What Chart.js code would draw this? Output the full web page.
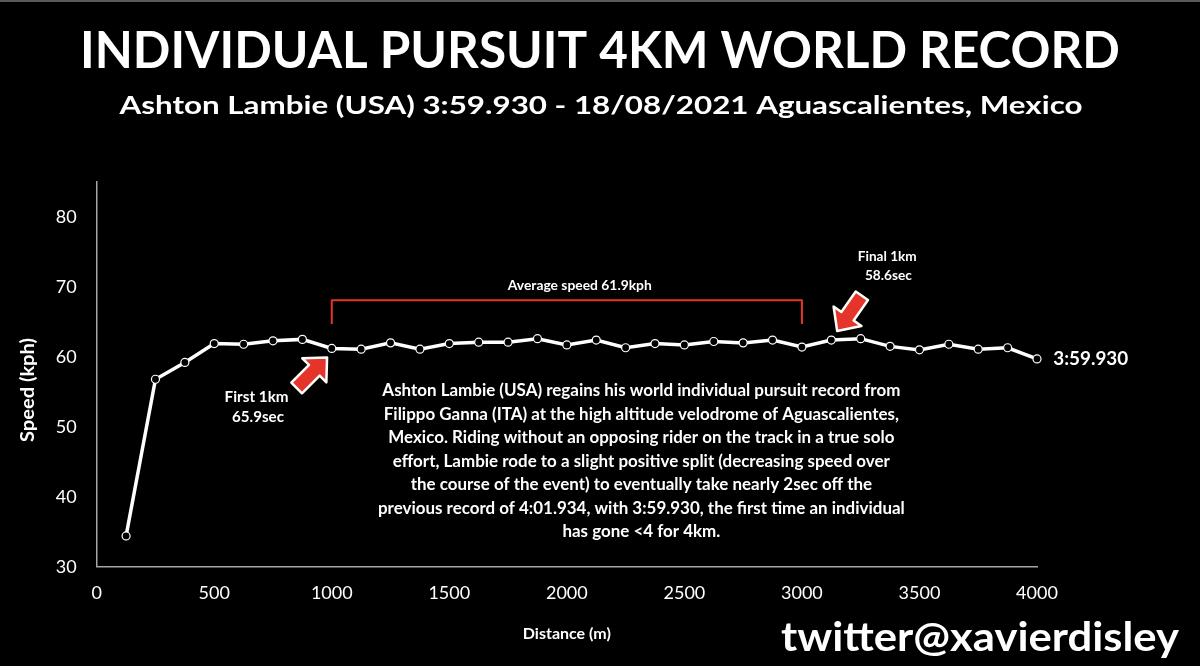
<!DOCTYPE html>
<html>
<head>
<meta charset="utf-8">
<title>Individual Pursuit 4km World Record</title>
<script src="https://cdn.jsdelivr.net/npm/chart.js@4.4.1/dist/chart.umd.min.js"></script>
<style>
  html, body { margin: 0; padding: 0; background: #000; }
  #quadro { position: relative; width: 1200px; height: 666px; }
</style>
</head>
<body>
<div id="quadro"><canvas id="grafico"></canvas></div>
<script>
// Dados (distância em m, velocidade em km/h)
const distancias = [125, 250, 375, 500, 625, 750, 875, 1000, 1125, 1250, 1375, 1500, 1625, 1750, 1875, 2000,
    2125, 2250, 2375, 2500, 2625, 2750, 2875, 3000, 3125, 3250, 3375, 3500, 3625, 3750, 3875, 4000];
const velocidades = [34.4, 56.8, 59.2, 61.9, 61.8, 62.3, 62.5, 61.2, 61.1, 62.0, 61.1, 61.9, 62.1, 62.1, 62.6, 61.7,
    62.4, 61.3, 61.9, 61.7, 62.2, 62.0, 62.4, 61.4, 62.4, 62.6, 61.5, 61.0, 61.8, 61.1, 61.3, 59.7];
const ticksX = [0, 500, 1000, 1500, 2000, 2500, 3000, 3500, 4000];
const ticksY = [30, 40, 50, 60, 70, 80];

const titulo = 'INDIVIDUAL PURSUIT 4KM WORLD RECORD';
const subtitulo = 'Ashton Lambie (USA) 3:59.930 - 18/08/2021 Aguascalientes, Mexico';
const tituloY = 'Speed (kph)';
const textoTempo = '3:59.930';
const textoMedia = 'Average speed 61.9kph';
const textoPrimeiro = ['First 1km', '65.9sec'];
const textoUltimo = ['Final 1km', '58.6sec'];
const paragrafo = [
    'Ashton Lambie (USA) regains his world individual pursuit record from',
    'Filippo Ganna (ITA) at the high altitude velodrome of Aguascalientes,',
    'Mexico. Riding without an opposing rider on the track in a true solo',
    'effort, Lambie rode to a slight positive split (decreasing speed over',
    'the course of the event) to eventually take nearly 2sec off the',
    'previous record of 4:01.934, with 3:59.930, the first time an individual',
    'has gone <4 for 4km.'
];
const assinatura = 'twitter@xavierdisley';

const VERMELHO = '#e5352a';

// escreve texto centrado, esticado/comprimido na horizontal até a largura pedida
function textoAjustado(ctx, texto, cx, cy, fonte, largura, angulo) {
    ctx.save();
    ctx.font = fonte;
    const w = ctx.measureText(texto).width;
    const s = largura ? largura / w : 1;
    ctx.translate(cx, cy);
    if (angulo) ctx.rotate(angulo);
    ctx.scale(s, 1);
    ctx.textAlign = 'center';
    ctx.textBaseline = 'middle';
    ctx.fillText(texto, 0, 0);
    ctx.restore();
}

// seta de bloco vermelha com contorno branco, ponta em (px, py)
function seta(ctx, px, py, angulo) {
    const comp = 43, cabeca = 18, meiaCabeca = 17, meioCorpo = 7.5;
    ctx.save();
    ctx.translate(px, py);
    ctx.rotate(angulo);
    ctx.beginPath();
    ctx.moveTo(0, 0);
    ctx.lineTo(-cabeca, -meiaCabeca);
    ctx.lineTo(-cabeca, -meioCorpo);
    ctx.lineTo(-comp, -meioCorpo);
    ctx.lineTo(-comp, meioCorpo);
    ctx.lineTo(-cabeca, meioCorpo);
    ctx.lineTo(-cabeca, meiaCabeca);
    ctx.closePath();
    ctx.fillStyle = VERMELHO;
    ctx.fill();
    ctx.lineWidth = 2.5;
    ctx.strokeStyle = '#fff';
    ctx.stroke();
    ctx.restore();
}

const anotacoes = {
    id: 'anotacoes',
    afterDraw(chart) {
        const ctx = chart.ctx;
        const sx = chart.scales.x;
        const sy = chart.scales.y;
        const X = v => sx.getPixelForValue(v);
        const Y = v => sy.getPixelForValue(v);

        ctx.save();
        // borda cinza no topo
        ctx.fillStyle = '#5a5a5a';
        ctx.fillRect(0, 0, chart.width, 2);

        ctx.fillStyle = '#fff';
        textoAjustado(ctx, titulo, 600, 51, 'bold 52px Lato', 1040);
        textoAjustado(ctx, subtitulo, 601, 106, 'bold 25px Lato', 963);

        // título do eixo y (rodado)
        textoAjustado(ctx, tituloY, 28, 390, 'bold 18px Lato', 104, -Math.PI / 2);

        // chave da média entre 1000 e 3000 m
        ctx.strokeStyle = VERMELHO;
        ctx.lineWidth = 2;
        ctx.lineJoin = 'round';
        ctx.beginPath();
        ctx.moveTo(X(1000), Y(64.7));
        ctx.lineTo(X(1000), Y(68.1));
        ctx.lineTo(X(3000), Y(68.1));
        ctx.lineTo(X(3000), Y(64.7));
        ctx.stroke();

        ctx.fillStyle = '#fff';
        textoAjustado(ctx, textoMedia, X(2055), Y(70.2), 'bold 14px Lato', 144);

        seta(ctx, X(980), Y(59.9), -Math.PI / 4);
        seta(ctx, X(3150), Y(63.7), Math.PI * 125 / 180);

        ctx.fillStyle = '#fff';
        textoAjustado(ctx, textoPrimeiro[0], X(680), Y(54.3), 'bold 15px Lato', 64);
        textoAjustado(ctx, textoPrimeiro[1], X(686), Y(51.4), 'bold 15px Lato', 52);
        textoAjustado(ctx, textoUltimo[0], X(3363), Y(74.3), 'bold 14px Lato', 59);
        textoAjustado(ctx, textoUltimo[1], X(3368), Y(71.7), 'bold 14px Lato', 47);

        // tempo final ao lado do último ponto
        textoAjustado(ctx, textoTempo, X(4069) + 37.5, Y(59.7), 'bold 19px Lato', 75);

        // parágrafo de texto, mesma escala horizontal para todas as linhas
        ctx.font = 'bold 16.5px Lato';
        const escala = 518 / ctx.measureText(paragrafo[0]).width;
        paragrafo.forEach((linha, i) => {
            ctx.font = 'bold 16.5px Lato';
            const w = ctx.measureText(linha).width * escala;
            textoAjustado(ctx, linha, X(2317), Y(55.1) + i * 23.5, 'bold 16.5px Lato', w);
        });

        textoAjustado(ctx, assinatura, 980, 638, 'bold 41px Lato', 398);
        ctx.restore();
    }
};

const ctx = document.getElementById('grafico').getContext('2d');
window.chart = new Chart(ctx, {
    type: 'line',
    data: {
        datasets: [{
            label: 'Speed (kph)',
            data: distancias.map((d, i) => ({ x: d, y: velocidades[i] })),
            borderColor: '#fff',
            borderWidth: 3.5,
            pointRadius: 4,
            pointBackgroundColor: '#000',
            pointBorderColor: '#fff',
            pointBorderWidth: 1.2,
            tension: 0,
            clip: false
        }]
    },
    options: {
        responsive: true,
        maintainAspectRatio: false,
        animation: false,
        layout: { padding: { top: 182, right: 163, left: 0, bottom: 0 } },
        plugins: {
            legend: { display: false },
            tooltip: { enabled: false },
            title: { display: false }
        },
        scales: {
            x: {
                type: 'linear',
                min: 0,
                max: 4000,
                grid: { display: false, drawTicks: false },
                border: { display: true, color: '#a6a6a6', width: 1.5 },
                ticks: {
                    color: '#fff',
                    font: { family: 'Lato', size: 18 },
                    padding: 16,
                    maxRotation: 0,
                    autoSkip: false,
                    callback: v => String(v)
                },
                afterBuildTicks: s => { s.ticks = ticksX.map(v => ({ value: v })); },
                afterFit: s => { s.height = 99.3; },
                title: {
                    display: true,
                    text: 'Distance (m)',
                    color: '#fff',
                    font: { family: 'Lato', size: 16, weight: 'bold' },
                    padding: { top: 0, bottom: 23 }
                }
            },
            y: {
                min: 30,
                max: 85,
                grid: { display: false, drawTicks: false },
                border: { display: true, color: '#a6a6a6', width: 1.5 },
                ticks: {
                    color: '#fff',
                    font: { family: 'Lato', size: 18 },
                    padding: 20,
                    callback: v => String(v)
                },
                afterBuildTicks: s => { s.ticks = ticksY.map(v => ({ value: v })); },
                afterFit: s => { s.width = 96.7; }
            }
        }
    },
    plugins: [anotacoes]
});
</script>
</body>
</html>
